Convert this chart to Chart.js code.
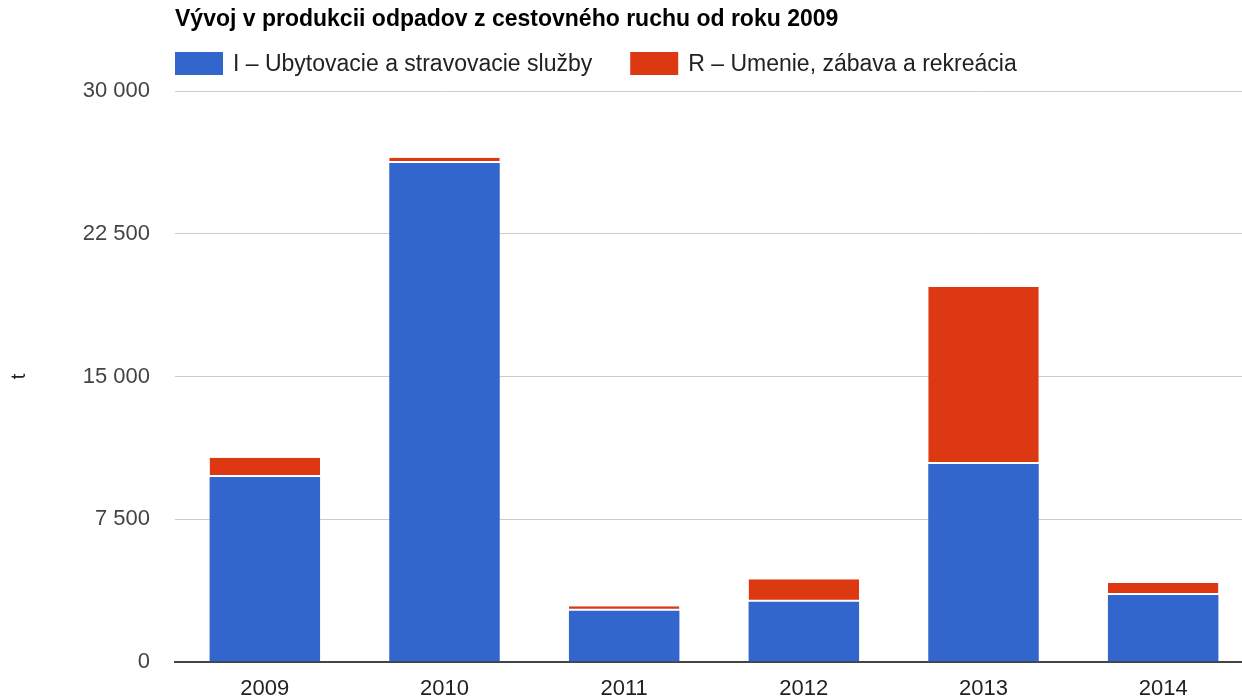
<!DOCTYPE html>
<html>
<head>
<meta charset="utf-8">
<script src="https://cdn.jsdelivr.net/npm/chart.js@4/dist/chart.umd.min.js"></script>
<style>
    html, body { margin: 0; padding: 0; background: #fff; overflow: hidden; }
    #wrap { width: 1242px; height: 700px; overflow: hidden; }
</style>
</head>
<body>
<div id="wrap"><canvas id="wasteChart"></canvas></div>
<script>
// Data (tonnes)
const years = ['2009', '2010', '2011', '2012', '2013', '2014'];
const accommodation = [9720, 26220, 2690, 3160, 10400, 3510];
const recreation = [1010, 280, 230, 1180, 9300, 630];
const yTickValues = [0, 7500, 15000, 22500, 30000];

const seriesNames = ['I – Ubytovacie a stravovacie služby', 'R – Umenie, zábava a rekreácia'];
const seriesColors = ['#3366cc', '#dc3912'];
const chartTitle = 'Vývoj v produkcii odpadov z cestovného ruchu od roku 2009';

const FONT = '"Liberation Sans", Arial, sans-serif';

// Format 30000 -> "30 000"
function formatNumber(v) {
    return String(v).replace(/\B(?=(\d{3})+(?!\d))/g, ' ');
}

// Simple legend drawn on the canvas, left aligned with the plot area
const inlineLegend = {
    id: 'inlineLegend',
    afterDraw(chart) {
        const ctx = chart.ctx;
        let x = chart.chartArea.left;
        const boxTop = 52, boxW = 48, boxH = 23;
        ctx.save();
        ctx.font = '23px ' + FONT;
        ctx.textBaseline = 'middle';
        chart.data.datasets.forEach((ds) => {
            ctx.fillStyle = ds.backgroundColor;
            ctx.fillRect(x, boxTop, boxW, boxH);
            ctx.fillStyle = '#222';
            ctx.fillText(ds.label, x + boxW + 10, boxTop + boxH / 2 + 1);
            x += boxW + 10 + ctx.measureText(ds.label).width + 38;
        });
        ctx.restore();
    }
};

function createChart() {
    const canvas = document.getElementById('wasteChart');
    canvas.width = 1253;
    canvas.height = 700;
    canvas.style.width = '1253px';
    canvas.style.height = '700px';

    window.wasteChart = new Chart(canvas.getContext('2d'), {
        type: 'bar',
        data: {
            labels: years,
            datasets: [{
                label: seriesNames[0],
                data: accommodation,
                backgroundColor: seriesColors[0],
                borderWidth: 0
            }, {
                label: seriesNames[1],
                data: recreation,
                backgroundColor: seriesColors[1],
                borderColor: '#ffffff',
                borderWidth: { top: 0, left: 0, right: 0, bottom: 2 },
                borderSkipped: false
            }]
        },
        options: {
            responsive: false,
            animation: false,
            devicePixelRatio: 1,
            layout: { padding: { top: 0, right: 0, bottom: 0, left: 0 } },
            datasets: {
                bar: { categoryPercentage: 1, barPercentage: 0.615 }
            },
            plugins: {
                legend: { display: false },
                tooltip: { enabled: false },
                title: {
                    display: true,
                    text: chartTitle,
                    align: 'start',
                    fullSize: false,
                    color: '#000',
                    font: { family: FONT, size: 23, weight: 'bold' },
                    padding: { top: 6, bottom: 57.5 }
                }
            },
            scales: {
                x: {
                    stacked: true,
                    grid: { display: false, drawTicks: false },
                    border: { display: true, color: '#444', width: 2 },
                    ticks: {
                        color: '#222',
                        padding: 14,
                        font: { family: FONT, size: 22 }
                    },
                    afterFit(scale) { scale.height = 36; }
                },
                y: {
                    stacked: true,
                    min: 0,
                    max: 30000,
                    afterBuildTicks(scale) {
                        scale.ticks = yTickValues.map(v => ({ value: v }));
                    },
                    grid: {
                        color: (c) => c.tick && c.tick.value === 0 ? 'rgba(0,0,0,0)' : '#cccccc',
                        lineWidth: 1,
                        drawTicks: false
                    },
                    border: { display: false },
                    ticks: {
                        color: '#444',
                        padding: 25,
                        font: { family: FONT, size: 22 },
                        callback: (v) => formatNumber(v)
                    },
                    title: {
                        display: true,
                        text: 't',
                        color: '#222',
                        font: { family: FONT, size: 20 },
                        padding: { top: 7, bottom: 0 }
                    },
                    afterFit(scale) { scale.width = 175; }
                }
            }
        },
        plugins: [inlineLegend]
    });
}

window.onload = createChart;
</script>
</body>
</html>
